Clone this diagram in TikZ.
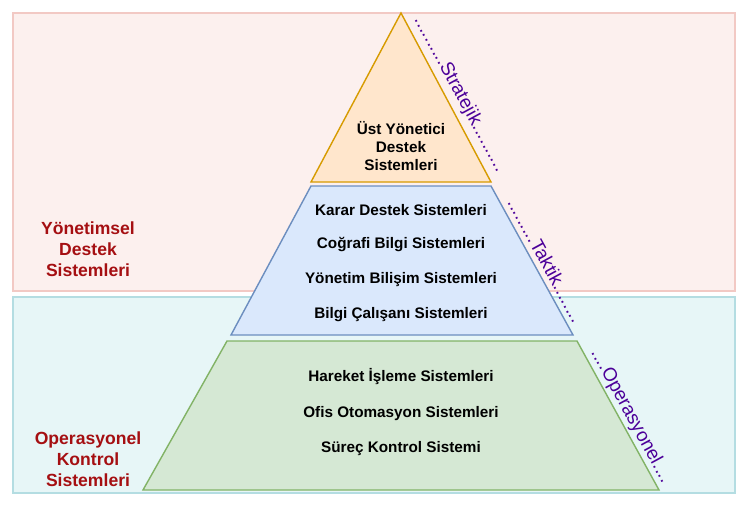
\documentclass[tikz,border=0pt]{standalone}
\usepackage{fontspec}
\setmainfont{Liberation Sans}
\definecolor{pinkbg}{HTML}{FCF0EE}
\definecolor{pinkline}{HTML}{F2C9C4}
\definecolor{cyanbg}{HTML}{E7F6F7}
\definecolor{cyanline}{HTML}{B4DDE2}
\definecolor{topfill}{HTML}{FFE6CC}
\definecolor{topline}{HTML}{D79B00}
\definecolor{midfill}{HTML}{DAE8FC}
\definecolor{midline}{HTML}{6C8EBF}
\definecolor{lowfill}{HTML}{D5E8D4}
\definecolor{lowline}{HTML}{82B366}
\definecolor{sidered}{HTML}{A50F12}
\definecolor{levelpurple}{HTML}{4C0099}
\begin{document}
\begin{tikzpicture}[x=0.02cm, y=-0.02cm,
  band/.style={line width=0.6pt},
  layer/.style={line width=0.8pt},
  item/.style={font=\fontsize{8.7}{10.3}\selectfont\bfseries, align=center},
  side/.style={font=\fontsize{10}{11.9}\selectfont\bfseries, text=sidered, align=center},
  level/.style={font=\fontsize{10.8}{13}\selectfont, text=levelpurple, rotate=-61.5, inner sep=0pt}]
\useasboundingbox (0,0) rectangle (752,507);
% background bands
\draw[band, fill=pinkbg, draw=pinkline] (13,13) rectangle (735,291);
\draw[band, fill=cyanbg, draw=cyanline] (13,297) rectangle (735,493);
% pyramid
\draw[layer, fill=topfill, draw=topline] (401,13) -- (491,182) -- (311,182) -- cycle;
\draw[layer, fill=midfill, draw=midline] (311,186) -- (491,186) -- (573,335) -- (231,335) -- cycle;
\draw[layer, fill=lowfill, draw=lowline] (227,341) -- (577,341) -- (659,490) -- (143,490) -- cycle;
% texts
\node[item] (ust) at (401,146) {Üst Yönetici\\Destek\\Sistemleri};
\node[item, anchor=base] (karar) at (401,215) {Karar Destek Sistemleri};
\node[item, anchor=base] (cografi) at (401,248) {Coğrafi Bilgi Sistemleri};
\node[item, anchor=base] (ybs) at (401,283) {Yönetim Bilişim Sistemleri};
\node[item, anchor=base] (calisan) at (401,318) {Bilgi Çalışanı Sistemleri};
\node[item, anchor=base] (hareket) at (401,381) {Hareket İşleme Sistemleri};
\node[item, anchor=base] (ofis) at (401,417) {Ofis Otomasyon Sistemleri};
\node[item, anchor=base] (surec) at (401,452) {Süreç Kontrol Sistemi};
\node[side] (yonetim) at (88,249) {Yönetimsel\\Destek\\Sistemleri};
\node[side] (operasyon) at (88,459) {Operasyonel\\Kontrol\\Sistemleri};
\node[level] (stratejik) at (460,94) {..........Stratejik..........};
\node[level] (taktik) at (546,260) {.........Taktik........};
\node[level] (operasyonel) at (631,416) {....Operasyonel....};
\end{tikzpicture}
\end{document}
